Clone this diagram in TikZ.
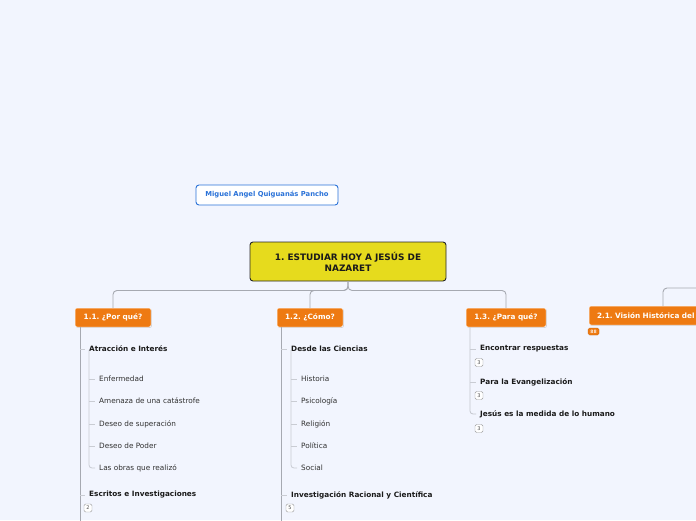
\documentclass[tikz,border=0pt]{standalone}
\usepackage{fontspec}
\setmainfont{DejaVu Sans}
\usetikzlibrary{calc,shadows}
\definecolor{bg}{HTML}{F2F5FE}
\definecolor{orng}{HTML}{EE7A12}
\definecolor{ylw}{HTML}{E6DB1D}
\definecolor{lnk}{HTML}{A6A9B1}
\definecolor{sublnk}{HTML}{C9CCD3}
\definecolor{blu}{HTML}{2A72D8}
\definecolor{txt}{HTML}{1A1A1A}
\frenchspacing
\tikzset{
  topic/.style={fill=orng, draw=white, line width=0.5pt, rounded corners=2pt,
    text=white, font=\fontsize{7.3}{8}\selectfont\bfseries, minimum height=19pt,
    inner xsep=7pt, drop shadow={opacity=0.35, shadow xshift=0.8pt, shadow yshift=-0.8pt}},
  central/.style={fill=ylw, draw=black!85, line width=0.9pt, rounded corners=3pt,
    text=txt, font=\fontsize{8.9}{11}\selectfont\bfseries, align=center,
    minimum width=196pt, minimum height=39pt, inner sep=0pt},
  floating/.style={fill=white, draw=blu, line width=0.9pt, rounded corners=3pt,
    text=blu, font=\fontsize{6.8}{8}\selectfont\bfseries, minimum width=142pt,
    minimum height=20pt, inner sep=0pt},
  item/.style={anchor=west, inner xsep=4pt, inner ysep=1pt, text=txt,
    font=\fontsize{7.3}{8}\selectfont\bfseries},
  subitem/.style={anchor=west, inner xsep=4pt, inner ysep=1pt, text=txt!90,
    font=\fontsize{7.3}{8}\selectfont},
  badge/.style={draw=black!40, fill=white, rounded corners=1.5pt, line width=0.4pt,
    minimum width=8pt, minimum height=8pt, inner sep=0pt, text=black!70,
    font=\fontsize{5}{5}\selectfont},
  conn/.style={draw=lnk, line width=0.9pt, rounded corners=4pt},
  subconn/.style={draw=sublnk, line width=0.8pt, rounded corners=3pt},
}
\begin{document}
\begin{tikzpicture}[x=1pt,y=-1pt]
\fill[bg] (0,0) rectangle (696,520);
\useasboundingbox (0,0) rectangle (696,520);
\clip (0,0) rectangle (696,520);

% floating topic
\node[floating] (mig) at (267,195) {Miguel Angel Quiguanás Pancho};

% central topic
\node[central] (main) at (348,261.5) {1. ESTUDIAR HOY A JESÚS DE\\NAZARET};

% main topics
\node[topic, minimum width=76pt] (n11) at (113,317.5) {1.1. ¿Por qué?};
\node[topic, minimum width=66pt] (n12) at (310,317.5) {1.2. ¿Cómo?};
\node[topic, minimum width=80pt] (n13) at (506,317.5) {1.3. ¿Para qué?};
\node[topic, text width=132pt, align=left, inner xsep=8pt] (n21) at (663,315.5) {2.1. Visión Histórica del Pueblo};
\node[fill=orng, draw=orng!80!black, line width=0.3pt, rounded corners=1.5pt, minimum width=11pt,
  minimum height=7pt, inner sep=0pt, text=white!85!orng, font=\fontsize{4.5}{4.5}\selectfont\bfseries]
  (b21) at (593.5,331.5) {88};

\coordinate (off) at (720,288);
\coordinate (bot) at (0,530);

% connectors from central topic
\draw[conn] (main.south) -- ++(0,9) -| (n11.north);
\draw[conn] (main.south) -- ++(0,9) -| (n12.north);
\draw[conn] (main.south) -- ++(0,9) -| (n13.north);
\draw[conn] (n21.north) |- (off);

% ---------- 1.1 branch ----------
\coordinate (t1) at (80,0);
\node[item] (a1) at (85,349) {Atracción e Interés};
\node[subitem] (a11) at (95,379) {Enfermedad};
\node[subitem] (a12) at (95,401) {Amenaza de una catástrofe};
\node[subitem] (a13) at (95,424) {Deseo de superación};
\node[subitem] (a14) at (95,446) {Deseo de Poder};
\node[subitem] (a15) at (95,468) {Las obras que realizó};
\node[item] (a2) at (85,495) {Escritos e Investigaciones};
\node[badge] (ba2) at (88,508) {2};

\draw[conn, rounded corners=0pt] (n11.south -| t1) -- (bot -| t1);
\draw[subconn] (a1.west -| t1) -- (a1.west);
\draw[subconn] (a2.west -| t1) -- (a2.west);
\coordinate (s1) at ($(a1.south west)+(4,-3)$);
\draw[subconn] (s1) |- (a15.west);
\draw[subconn] (a11.west -| s1) -- (a11.west);
\draw[subconn] (a12.west -| s1) -- (a12.west);
\draw[subconn] (a13.west -| s1) -- (a13.west);
\draw[subconn] (a14.west -| s1) -- (a14.west);

% ---------- 1.2 branch ----------
\coordinate (t2) at (281,0);
\node[item] (c1) at (287,349) {Desde las Ciencias};
\node[subitem] (c11) at (297,379) {Historia};
\node[subitem] (c12) at (297,401) {Psicología};
\node[subitem] (c13) at (297,424) {Religión};
\node[subitem] (c14) at (297,446) {Política};
\node[subitem] (c15) at (297,468) {Social};
\node[item] (c2) at (287,495) {Investigación Racional y Científica};
\node[badge] (bc2) at (290,508) {5};

\draw[conn, rounded corners=0pt] (n12.south -| t2) -- (bot -| t2);
\draw[subconn] (c1.west -| t2) -- (c1.west);
\draw[subconn] (c2.west -| t2) -- (c2.west);
\coordinate (s2) at ($(c1.south west)+(4,-3)$);
\draw[subconn] (s2) |- (c15.west);
\draw[subconn] (c11.west -| s2) -- (c11.west);
\draw[subconn] (c12.west -| s2) -- (c12.west);
\draw[subconn] (c13.west -| s2) -- (c13.west);
\draw[subconn] (c14.west -| s2) -- (c14.west);

% ---------- 1.3 branch ----------
\coordinate (t3) at (470,0);
\node[item] (p1) at (476,349) {Encontrar respuestas};
\node[badge] (bp1) at (479,362.5) {3};
\node[item] (p2) at (476,382) {Para la Evangelización};
\node[badge] (bp2) at (479,395.5) {3};
\node[item] (p3) at (476,414) {Jesús es la medida de lo humano};
\node[badge] (bp3) at (479,428.5) {3};

\draw[subconn, draw=sublnk!80!lnk] (n13.south -| t3) |- (p3.west);
\draw[subconn] (p1.west -| t3) -- (p1.west);
\draw[subconn] (p2.west -| t3) -- (p2.west);
\end{tikzpicture}
\end{document}
